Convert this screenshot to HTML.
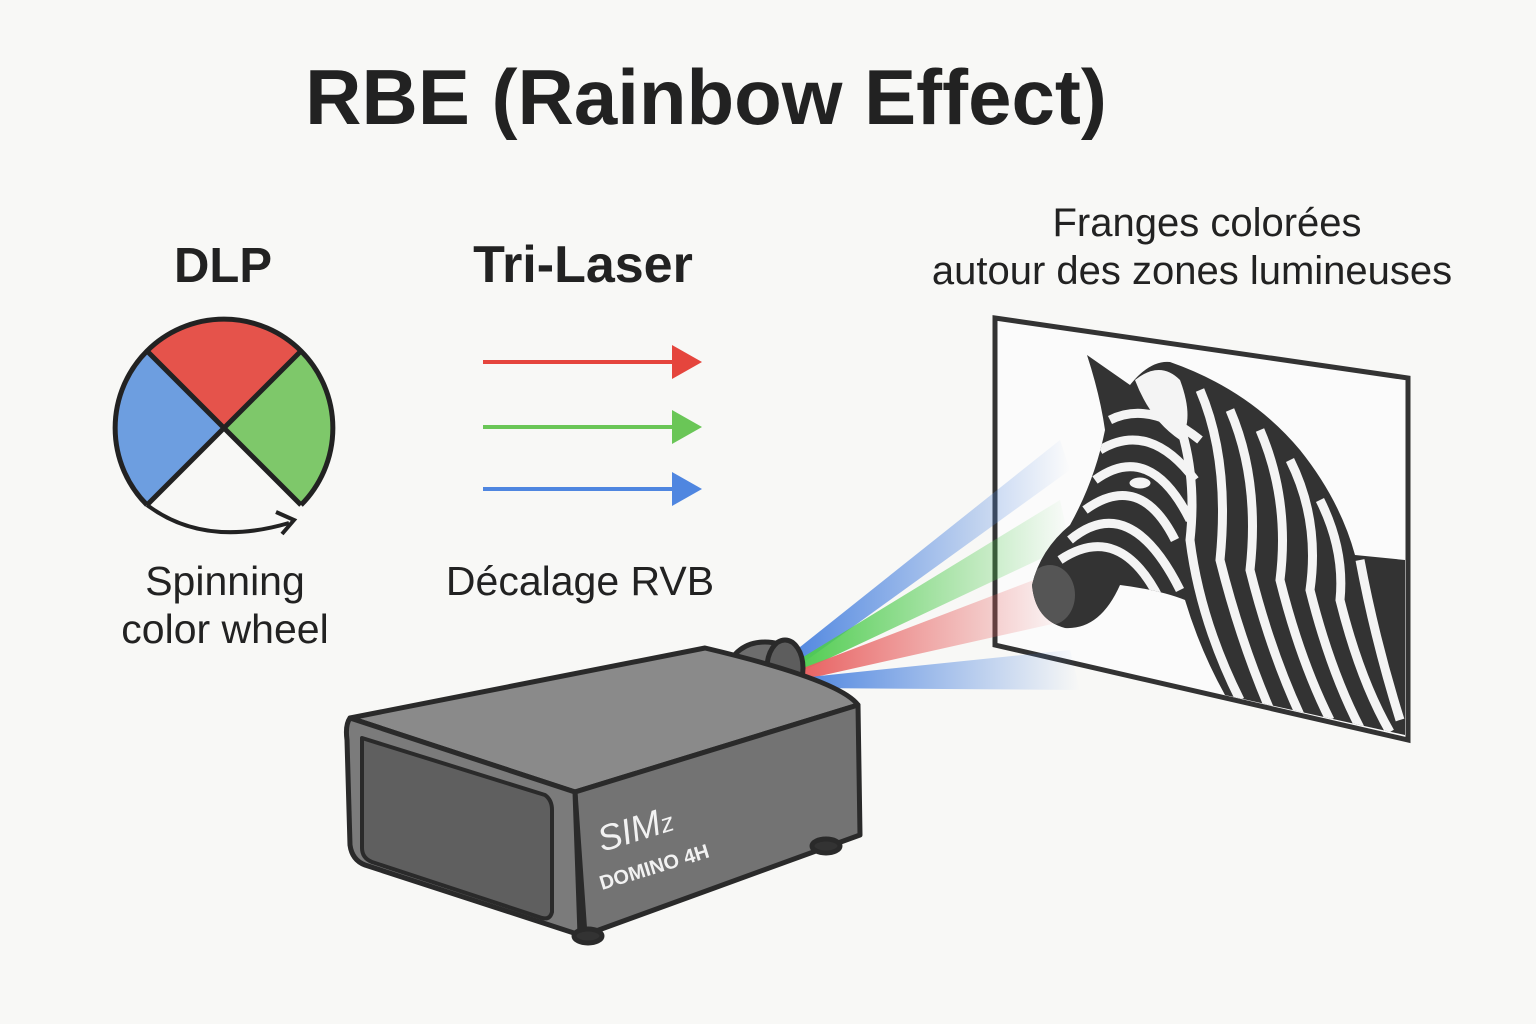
<!DOCTYPE html>
<html><head><meta charset="utf-8"><style>
html,body{margin:0;padding:0;background:#f8f8f6;}
svg{display:block}
text{font-family:"Liberation Sans",sans-serif;fill:#222}
</style></head><body>
<svg width="1536" height="1024" viewBox="0 0 1536 1024" xmlns="http://www.w3.org/2000/svg">
<defs>
<linearGradient id="gb" x1="0" y1="0" x2="1" y2="0"><stop offset="0" stop-color="#4f86e0"/><stop offset="1" stop-color="#4f86e0" stop-opacity="0"/></linearGradient>
<linearGradient id="gg" x1="0" y1="0" x2="1" y2="0"><stop offset="0" stop-color="#4fcc4f"/><stop offset="1" stop-color="#4fcc4f" stop-opacity="0"/></linearGradient>
<linearGradient id="gr" x1="0" y1="0" x2="1" y2="0"><stop offset="0" stop-color="#e86060"/><stop offset="1" stop-color="#e86060" stop-opacity="0"/></linearGradient>
<clipPath id="zc"><path d="M1087,355 L1130,385 Q1150,360 1170,362 Q1250,390 1300,450 Q1340,500 1355,555 L1405,560 L1405,735 L1225,695 Q1200,650 1185,600 Q1160,590 1120,585 Q1100,630 1065,628 Q1035,620 1032,585 Q1040,550 1070,525 Q1095,480 1105,430 Q1100,395 1087,355 Z"/></clipPath>
</defs>
<rect width="1536" height="1024" fill="#f8f8f6"/>
<text x="706" y="124" font-size="78" text-anchor="middle" font-weight="bold">RBE (Rainbow Effect)</text>
<text x="223" y="282" font-size="49" text-anchor="middle" font-weight="bold">DLP</text>
<text x="583" y="282" font-size="52" text-anchor="middle" font-weight="bold">Tri-Laser</text>
<text x="1207" y="236" font-size="40" text-anchor="middle">Franges colorées</text>
<text x="1192" y="284" font-size="40" text-anchor="middle">autour des zones lumineuses</text>
<!-- wheel -->
<g transform="translate(224,428)">
<path d="M0,0 L-77,-77 A109,109 0 0 1 77,-77 Z" fill="#e5534b"/>
<path d="M0,0 L77,-77 A109,109 0 0 1 77,77 Z" fill="#7ec86a"/>
<path d="M0,0 L-77,-77 A109,109 0 0 0 -77,77 Z" fill="#6d9ee0"/>
<path d="M-77,77 A109,109 0 0 1 -77,-77 A109,109 0 0 1 77,-77 A109,109 0 0 1 77,77" fill="none" stroke="#222" stroke-width="5"/>
<path d="M-77,-77 L77,77 M77,-77 L-77,77" stroke="#222" stroke-width="5"/>
<path d="M-77,77 Q-20,120 65,95" fill="none" stroke="#222" stroke-width="4"/>
<path d="M52,84 L70,92 L58,106" fill="none" stroke="#222" stroke-width="4"/>
</g>
<text x="225" y="595" font-size="41" text-anchor="middle">Spinning</text>
<text x="225" y="643" font-size="41" text-anchor="middle">color wheel</text>
<!-- arrows -->
<line x1="483" y1="362" x2="680" y2="362" stroke="#e5453d" stroke-width="4"/><polygon points="672,345 702,362 672,379" fill="#e5453d"/>
<line x1="483" y1="427" x2="680" y2="427" stroke="#6ac657" stroke-width="4"/><polygon points="672,410 702,427 672,444" fill="#6ac657"/>
<line x1="483" y1="489" x2="680" y2="489" stroke="#4f86e0" stroke-width="4"/><polygon points="672,472 702,489 672,506" fill="#4f86e0"/>
<text x="580" y="595" font-size="41" text-anchor="middle">Décalage RVB</text>
<!-- screen -->
<polygon points="995,318 1408,378 1408,740 995,645" fill="#fbfbfb" stroke="#333" stroke-width="5"/>
<!-- beams -->
<polygon points="790,655 1060,440 1070,470 800,665" fill="url(#gb)"/>
<polygon points="795,662 1060,500 1070,545 800,672" fill="url(#gg)"/>
<polygon points="798,670 1060,570 1070,620 802,680" fill="url(#gr)"/>
<polygon points="800,678 1070,650 1080,690 805,688" fill="url(#gb)"/>
<!-- zebra -->
<g clip-path="url(#zc)">
<rect x="1030" y="350" width="380" height="390" fill="#333"/>
<g fill="none" stroke="#f4f4f4" stroke-width="9">
<path d="M1060,560 Q1120,520 1160,600"/><path d="M1070,540 Q1130,490 1180,590"/>
<path d="M1085,510 Q1140,470 1175,540"/><path d="M1095,480 Q1150,440 1190,520"/>
<path d="M1100,450 Q1150,420 1195,480"/><path d="M1110,420 Q1150,400 1200,440"/>
<path d="M1160,380 Q1200,450 1190,540 Q1200,620 1240,700"/>
<path d="M1200,390 Q1230,460 1220,560 Q1240,640 1270,710"/>
<path d="M1230,410 Q1260,480 1250,570 Q1270,650 1300,715"/>
<path d="M1260,430 Q1290,500 1280,580 Q1300,660 1330,720"/>
<path d="M1290,460 Q1320,520 1310,590 Q1330,670 1360,728"/>
<path d="M1320,500 Q1345,550 1340,600 Q1360,680 1390,732"/>
<path d="M1360,560 Q1375,640 1400,720"/>
</g>
<ellipse cx="1050" cy="595" rx="25" ry="30" fill="#555"/>
<path d="M1135,380 Q1160,360 1180,380 Q1195,420 1180,440 Q1150,420 1135,380Z" fill="#f4f4f4"/>
<ellipse cx="1140" cy="483" rx="12" ry="7" fill="#f4f4f4" stroke="#333" stroke-width="3"/>
</g>
<!-- projector -->
<g stroke="#2a2a2a" stroke-width="5" stroke-linejoin="round">
<ellipse cx="765" cy="668" rx="35" ry="26" fill="#6d6d6d"/>
<ellipse cx="785" cy="668" rx="18" ry="28" fill="#5d5d5d"/>
<path d="M350,718 L705,648 Q840,680 858,705 L575,792 Z" fill="#8a8a8a"/>
<path d="M575,792 L858,705 L860,835 L585,935 Z" fill="#737373"/>
<path d="M350,718 Q345,725 347,740 L350,845 Q352,860 365,865 L580,935 L575,792 Z" fill="#7b7b7b"/>
<path d="M362,738 L545,795 Q552,800 552,810 L552,912 Q550,920 542,918 L372,862 Q362,858 362,848 Z" fill="#5f5f5f" stroke-width="4"/>
<ellipse cx="588" cy="936" rx="14" ry="7" fill="#333"/>
<ellipse cx="826" cy="846" rx="14" ry="7" fill="#333"/>
</g>
<text x="602" y="852" font-size="36" style="fill:#f2f2f2" font-style="italic" transform="rotate(-17 602 852)">SIM<tspan font-size="26">z</tspan></text>
<text x="602" y="890" font-size="20" font-weight="bold" style="fill:#f2f2f2" transform="rotate(-17 602 890)">DOMINO 4H</text>
</svg>
</body></html>
